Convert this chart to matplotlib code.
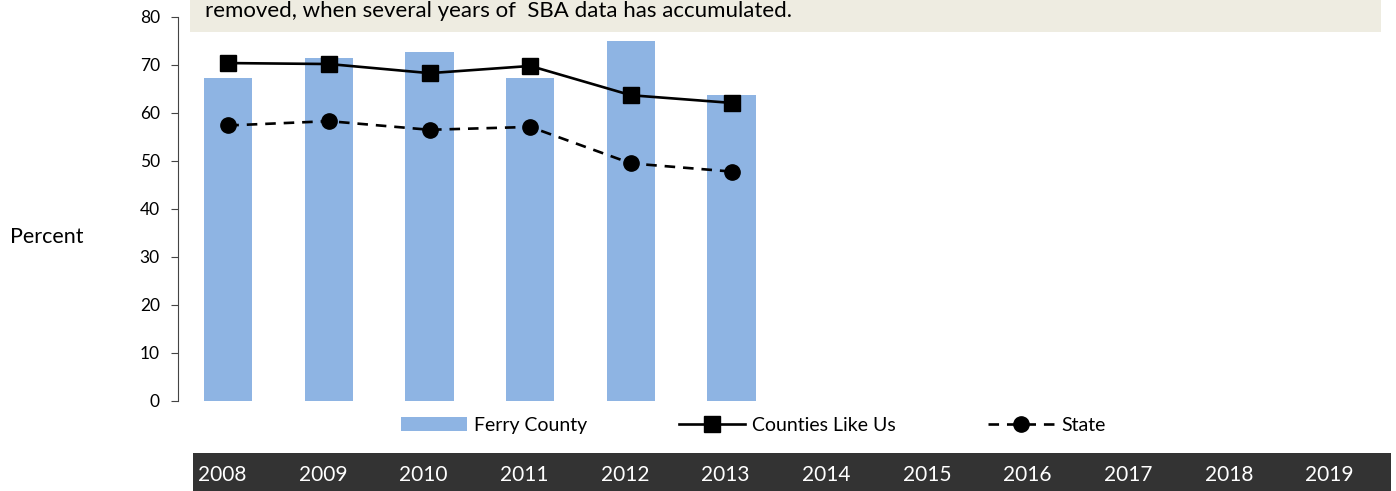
import numpy as np
import matplotlib
matplotlib.use("Agg")
import matplotlib.pyplot as plt
from matplotlib.patches import Rectangle, Patch
from matplotlib.lines import Line2D
import matplotlib.transforms as mtransforms

plt.rcParams["font.family"] = ["Lato", "DejaVu Sans"]

# -----------------------------
# DATA
# -----------------------------
years = ["2008", "2009", "2010", "2011", "2012", "2013",
         "2014", "2015", "2016", "2017", "2018", "2019"]
ferry_county = [67.2, 71.5, 72.7, 67.3, 75.1, 63.7]
counties_like_us = [70.4, 70.2, 68.3, 69.8, 63.7, 62.1]
state = [57.4, 58.3, 56.5, 57.1, 49.5, 47.8]

bar_color = "#8EB4E3"
note_text = "removed, when several years of  SBA data has accumulated."

# -----------------------------
# FIGURE
# -----------------------------
fig = plt.figure(figsize=(13.96, 4.91), dpi=100)
ax = fig.add_axes([0.1275, 0.1833, 0.8653, 0.7821])
ax.set_facecolor("none")

x = np.arange(len(years))
n = len(ferry_county)
ax.bar(x[:n], ferry_county, width=0.48, color=bar_color, zorder=1)
ax.plot(x[:n], counties_like_us, color="black", lw=1.9, marker="s",
        markersize=11, zorder=3)
ax.plot(x[:n], state, color="black", lw=1.9, ls=(0, (4, 3)), marker="o",
        markersize=11, zorder=3)

ax.set_xlim(-0.5, len(years) - 0.5)
ax.set_ylim(0, 80)
ax.set_yticks(range(0, 81, 10))
ax.set_xticks([])
for s in ["top", "right", "bottom"]:
    ax.spines[s].set_visible(False)
ax.spines["left"].set_linewidth(0.8)
ax.spines["left"].set_color("#444444")
ax.tick_params(axis="y", direction="out", length=5, width=0.8,
               labelsize=12.5, pad=8, colors="#444444", labelcolor="black")

fig.text(0.007, 0.5175, "Percent", fontsize=15.5, va="center", ha="left")

# top note box
fig.patches.append(Rectangle((0.1361, 0.9348), 0.8532, 0.07,
                             transform=fig.transFigure, facecolor="#EEECE1",
                             edgecolor="none", zorder=-1))
fig.text(0.1468, 0.978, note_text, fontsize=16, va="center", ha="left")

# bottom year band
fig.patches.append(Rectangle((0.1383, 0.0), 0.8581, 0.0774,
                             transform=fig.transFigure, facecolor="#333333",
                             edgecolor="none", zorder=-1))
trans = mtransforms.blended_transform_factory(ax.transData, fig.transFigure)
for i, yr in enumerate(years):
    fig.text(i - 0.06, 0.032, yr, transform=trans, color="white",
             fontsize=15, ha="center", va="center", zorder=5)

# legend
handles = [
    Patch(facecolor=bar_color, edgecolor="none"),
    Line2D([], [], color="black", lw=1.9, marker="s", markersize=11),
    Line2D([], [], color="black", lw=1.9, ls=(0, (4, 3)), marker="o", markersize=11),
]
fig.legend(handles, ["Ferry County", "Counties Like Us", "State"],
           loc="center", bbox_to_anchor=(0.5395, 0.1334), ncol=3,
           frameon=False, fontsize=14, handlelength=3.4, handleheight=0.7,
           columnspacing=4.75, handletextpad=0.35)

plt.savefig("out.png", dpi=100)
plt.close()
